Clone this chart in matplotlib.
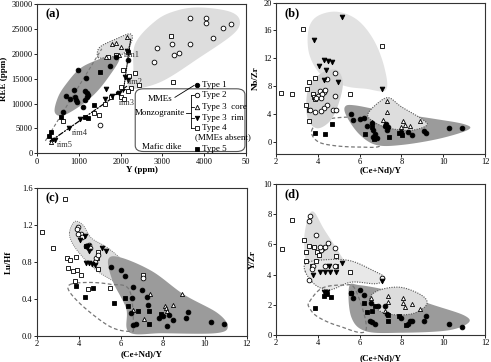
import numpy as np
import matplotlib
matplotlib.use("Agg")
import matplotlib.pyplot as plt
from matplotlib.patches import Polygon, FancyBboxPatch

plt.rcParams['font.family'] = ['Liberation Serif', 'DejaVu Serif']
plt.rcParams['font.size'] = 6

# ---------------- panel (a): Y vs REE ----------------
A_TYPE1 = [(970, 16700), (1180, 15200), (880, 12800), (700, 11600), (790, 11000), (900, 11300),
           (930, 10700), (950, 10300), (1140, 12500), (1190, 12100), (1230, 11700), (1200, 11300),
           (1100, 9400), (620, 8300), (1740, 17500), (1880, 19400), (1150, 10800), (2180, 18800)]
A_TYPE2 = [(3660, 27100), (4040, 27100), (4040, 26100), (4440, 25200), (4650, 25900), (4200, 23200),
           (3650, 21900), (3220, 22000), (2880, 21100), (3280, 19700), (3400, 20200), (2800, 18300),
           (1500, 5600)]
A_CORE = [(2150, 23300), (1800, 21900), (1900, 22200), (2000, 21300), (1650, 19300), (1950, 19800),
          (330, 2300)]
A_RIM = [(2100, 15300), (2180, 14700), (1650, 13000), (1950, 12100), (1620, 10900), (1800, 11600),
         (1040, 6900), (760, 5100), (420, 2600), (2150, 20500)]
A_TYPE4 = [(3200, 23600), (3250, 14300), (2350, 16100), (2050, 16700), (2200, 15600), (2450, 13800),
           (2250, 13200), (2020, 13300), (2170, 12500), (2000, 11300), (2080, 11000), (1770, 11300),
           (1620, 9900), (1490, 7600), (1360, 8000), (620, 6500), (1700, 19300), (1880, 19800)]
A_TYPE5 = [(1500, 16400), (580, 7200), (1140, 7300), (1370, 9800), (340, 4300), (290, 3500),
           (2180, 20400), (1230, 7100)]

A_DARK = [(424, 8300), (504, 11300), (704, 14000), (1024, 17000), (1424, 18700), (1864, 19900),
          (1968, 18800), (1744, 15700), (1424, 12300), (1064, 9700), (624, 7600)]
A_LIGHT = [(2200, 13000), (2300, 16000), (2350, 22000), (2850, 26700), (3350, 28700), (3900, 29300),
           (4600, 28500), (4850, 26700), (4700, 24000), (3900, 19300), (2950, 14300)]
A_CORE_ZONE = [(1460, 19300), (1500, 21300), (1900, 23000), (2220, 24000), (2270, 22700),
               (2060, 20000), (1660, 19300)]

# ---------------- panel (b): (Ce+Nd)/Y vs Nb/Zr ----------------
B_TYPE1 = [(5.57, 4.0), (5.67, 3.1), (6.0, 3.2), (6.2, 3.4), (6.37, 2.3), (6.58, 2.6), (6.62, 1.7),
           (6.74, 1.1), (6.66, 0.7), (6.82, 0.5), (7.2, 2.2), (7.3, 1.7), (7.25, 2.5), (8.0, 1.3),
           (8.3, 1.4), (8.5, 1.0), (9.1, 1.5), (9.2, 1.2), (10.3, 2.0), (10.9, 1.9), (7.35, 2.1)]
B_TYPE2 = [(4.8, 9.8), (4.45, 9.0), (4.1, 7.3), (4.3, 7.1), (4.0, 6.5), (3.9, 6.2), (4.45, 5.2),
           (4.3, 4.8), (4.15, 4.4), (4.75, 4.6), (4.85, 4.6), (3.85, 4.2), (3.65, 4.6), (4.2, 6.9),
           (4.8, 6.6), (4.35, 7.4), (4.15, 6.3)]
B_CORE = [(7.3, 5.9), (7.3, 4.2), (7.1, 3.1), (6.6, 2.8), (8.1, 2.9), (8.15, 2.4), (8.4, 2.3),
          (8.9, 2.9), (8.0, 2.1)]
B_RIM = [(5.14, 17.9), (3.8, 14.6), (4.3, 11.8), (4.47, 11.6), (4.66, 11.4), (4.06, 10.9),
         (4.38, 10.3), (4.3, 8.9), (4.98, 8.6), (7.06, 7.5)]
B_TYPE4 = [(3.85, 9.1), (3.6, 8.6), (3.5, 7.6), (3.75, 6.9), (3.8, 6.4), (3.85, 6.1), (3.45, 5.3),
           (3.6, 4.6), (3.6, 2.9), (5.55, 6.8), (3.3, 16.2), (7.05, 13.8), (2.25, 7.05), (2.75, 6.85)]
B_TYPE5 = [(3.85, 1.2), (4.35, 1.1), (4.7, 2.5), (6.25, 1.1), (6.6, 2.1), (7.4, 0.7), (7.9, 1.2),
           (8.05, 1.0), (6.7, 0.4)]

B_UPPER = [(3.55, 16.0), (3.95, 18.0), (4.9, 18.7), (5.9, 17.5), (6.7, 14.5), (7.2, 10.5),
           (7.25, 7.4), (6.3, 7.6), (5.3, 8.0), (4.2, 9.5), (3.6, 12.5)]
B_TYPE2_ZONE = [(3.45, 5.5), (3.6, 8.0), (4.2, 9.9), (4.9, 10.3), (5.2, 8.5), (5.0, 5.5),
                (4.6, 3.0), (4.0, 1.9), (3.55, 3.0)]
B_DARK = [(5.3, 5.0), (5.8, 5.2), (7.5, 4.2), (9.5, 3.3), (11.0, 2.5), (11.2, 1.7), (9.8, 0.4),
          (8.0, -0.5), (6.8, -0.5), (6.0, 1.0), (5.4, 3.5)]
B_CORE_ZONE = [(6.4, 4.0), (6.9, 5.6), (7.4, 6.3), (8.0, 5.0), (9.0, 3.2), (9.2, 2.3), (8.4, 1.6),
               (7.3, 2.0), (6.6, 3.0)]
B_DASH = [(3.7, 1.5), (4.2, 3.0), (5.3, 3.5), (6.2, 3.3), (6.9, 1.5), (7.0, -0.6), (6.0, -0.8),
          (4.8, -0.6), (4.0, 0.0)]

# ---------------- panel (c): (Ce+Nd)/Y vs Lu/Hf ----------------
C_TYPE1 = [(5.55, 0.75), (6.0, 0.72), (6.2, 0.65), (6.6, 0.53), (7.0, 0.50), (6.55, 0.41),
           (7.25, 0.42), (6.6, 0.12), (6.7, 0.13), (6.5, 0.25), (7.3, 0.34), (8.0, 0.22), (8.2, 0.11),
           (8.3, 0.23), (8.5, 0.17), (9.1, 0.20), (9.2, 0.26), (10.3, 0.15), (10.9, 0.13), (7.8, 0.20)]
C_TYPE2 = [(3.95, 1.18), (3.9, 1.16), (4.1, 1.10), (4.15, 1.07), (4.5, 0.99), (4.35, 0.97),
           (4.45, 0.96), (4.8, 0.85), (4.9, 0.88), (4.75, 0.80), (3.95, 1.11), (7.05, 0.63), (4.55, 0.95)]
C_CORE = [(7.4, 0.45), (6.6, 0.28), (7.1, 0.18), (8.1, 0.33), (8.15, 0.30), (8.2, 0.27), (8.5, 0.34),
          (8.9, 0.45)]
C_RIM = [(4.3, 1.08), (4.05, 1.04), (4.5, 0.92), (5.1, 0.95), (5.3, 0.92), (4.35, 0.79), (4.5, 0.79),
         (4.6, 0.78), (4.75, 0.77), (4.45, 0.98)]
C_TYPE4 = [(3.35, 1.48), (2.25, 1.13), (2.75, 0.95), (3.45, 0.84), (3.55, 0.82), (3.5, 0.74),
           (3.7, 0.7), (3.9, 0.72), (3.85, 0.86), (4.9, 0.91), (4.85, 0.85), (4.9, 0.73), (3.8, 0.6),
           (4.45, 0.51), (5.5, 0.52), (7.05, 0.66), (4.1, 0.66)]
C_TYPE5 = [(3.85, 0.54), (4.65, 0.52), (4.3, 0.42), (5.65, 0.36), (6.2, 0.41), (6.35, 0.33),
           (6.8, 0.27), (7.35, 0.27), (7.35, 0.13), (7.9, 0.24), (4.35, 0.97)]

C_LIGHT = [(3.55, 1.12), (3.8, 1.24), (4.2, 1.2), (4.6, 1.06), (5.4, 0.95), (6.2, 0.78),
           (6.8, 0.52), (6.3, 0.5), (5.6, 0.6), (4.9, 0.7), (4.2, 0.85), (3.7, 1.0)]
C_DARK = [(5.4, 0.83), (6.0, 0.85), (7.5, 0.7), (9.0, 0.45), (10.6, 0.25), (11.1, 0.1), (10.5, 0.03),
          (8.0, 0.03), (6.4, 0.04), (6.25, 0.3), (5.6, 0.6)]
C_DASH = [(3.6, 0.56), (4.5, 0.58), (5.5, 0.56), (6.4, 0.5), (6.6, 0.1), (6.4, 0.05), (5.5, 0.1),
          (4.3, 0.3), (3.55, 0.48)]

# ---------------- panel (d): (Ce+Nd)/Y vs Y/Zr ----------------
D_TYPE1 = [(5.6, 2.8), (5.7, 2.45), (6.0, 2.95), (6.2, 2.65), (6.55, 2.1), (6.6, 0.85), (6.75, 0.75),
           (6.5, 0.95), (7.2, 1.95), (7.3, 1.4), (8.0, 1.15), (8.3, 0.7), (8.4, 0.9), (8.5, 0.9),
           (9.1, 0.95), (9.2, 1.25), (10.3, 0.75), (10.9, 0.55), (6.9, 1.95)]
D_TYPE2 = [(3.65, 7.85), (3.6, 7.55), (3.9, 6.65), (4.25, 5.75), (4.15, 5.65), (4.35, 5.85),
           (4.5, 6.1), (4.8, 5.75), (3.75, 4.55), (3.7, 4.4), (3.6, 3.65), (4.35, 4.6), (4.8, 4.55),
           (7.05, 3.75), (4.1, 5.8)]
D_CORE = [(7.35, 2.6), (7.35, 2.2), (8.1, 2.45), (8.1, 2.15), (8.15, 1.85), (8.5, 2.05), (8.9, 1.7),
          (6.55, 2.45), (7.2, 1.6)]
D_RIM = [(3.75, 4.0), (4.1, 4.2), (4.35, 4.2), (4.6, 4.2), (4.85, 4.2), (5.15, 4.75), (4.3, 2.85),
         (4.45, 2.85), (7.05, 3.55), (4.55, 4.6)]
D_TYPE4 = [(2.27, 5.7), (2.75, 7.6), (3.35, 6.3), (3.45, 5.5), (3.45, 4.9), (3.6, 5.9), (3.95, 5.5),
           (3.9, 4.9), (3.7, 4.55), (4.05, 5.3), (5.55, 4.2), (4.85, 5.2), (4.85, 4.6), (3.8, 5.8)]
D_TYPE5 = [(4.3, 2.55), (4.65, 2.5), (4.45, 2.7), (3.85, 1.8), (5.6, 2.75), (6.2, 2.15), (6.35, 1.55),
           (6.6, 1.6), (6.75, 1.95), (7.35, 1.3), (7.35, 0.95), (7.9, 1.25), (8.2, 0.65)]

D_UPPER = [(3.4, 7.0), (3.6, 8.0), (3.85, 8.1), (4.3, 7.0), (5.0, 5.5), (5.2, 4.8), (4.3, 4.7),
           (3.5, 4.8), (3.35, 6.0)]
D_RIM_ZONE = [(3.4, 4.2), (3.5, 4.8), (4.6, 5.0), (5.6, 4.9), (6.6, 4.3), (7.2, 3.8), (6.8, 3.4),
              (5.6, 3.5), (4.6, 3.0), (3.9, 3.3)]
D_DARK = [(5.5, 3.2), (6.0, 3.3), (7.5, 2.9), (9.5, 2.0), (11.0, 1.3), (11.2, 0.8), (10.2, 0.3),
          (8.0, 0.15), (6.3, 0.25), (5.6, 1.2)]
D_CORE_ZONE = [(6.5, 2.5), (7.0, 3.0), (8.0, 3.15), (9.0, 2.6), (9.2, 2.0), (8.5, 1.4), (7.3, 1.4),
               (6.7, 1.9)]
D_DASH = [(3.6, 2.2), (4.2, 3.1), (5.2, 3.3), (5.8, 3.0), (6.3, 0.3), (5.0, 0.6), (4.0, 1.2),
          (3.6, 1.8)]

DARK = '#9b9b9b'
LIGHT = '#dddddd'
MID = '#d2d2d2'

MS = {'t1': dict(marker='o', mfc='k', mec='k'),
      't2': dict(marker='o', mfc='white', mec='k'),
      'core': dict(marker='^', mfc='white', mec='k'),
      'rim': dict(marker='v', mfc='k', mec='k'),
      't4': dict(marker='s', mfc='white', mec='k'),
      't5': dict(marker='s', mfc='k', mec='k')}


def smooth(pts, n=16):
    # closed Catmull-Rom curve through the outline points
    p = np.asarray(pts, float)
    N = len(p)
    out = []
    for i in range(N):
        p0, p1, p2, p3 = p[i - 1], p[i], p[(i + 1) % N], p[(i + 2) % N]
        for t in np.linspace(0, 1, n, endpoint=False):
            out.append(0.5 * (2 * p1 + (p2 - p0) * t + (2 * p0 - 5 * p1 + 4 * p2 - p3) * t ** 2
                              + (3 * p1 - p0 - 3 * p2 + p3) * t ** 3))
    return np.array(out)


def zone(ax, pts, fc='none', ec='none', ls='-', lw=0.8, z=1):
    ax.add_patch(Polygon(smooth(pts), closed=True, fc=fc, ec=ec, ls=ls, lw=lw, zorder=z))


def scatter(ax, pts, kind, ms=3.4):
    p = np.asarray(pts, float)
    ax.plot(p[:, 0], p[:, 1], ls='none', ms=ms, mew=0.6, zorder=5, **MS[kind])


def style(ax, label, xlab, ylab, xl, yl):
    for s in ax.spines.values():
        s.set_linewidth(0.8)
        s.set_color('#333333')
    ax.tick_params(direction='out', length=2, width=0.6, pad=1.2, labelsize=6)
    ax.set_xlabel(xlab, fontweight='bold', fontsize=6.5)
    ax.set_ylabel(ylab, fontweight='bold', fontsize=6.5)
    ax.xaxis.set_label_coords(0.5, xl)
    ax.yaxis.set_label_coords(yl, 0.5)
    ax.text(0.04, 0.93, label, transform=ax.transAxes, fontweight='bold', fontsize=9,
            va='center', ha='left')


fig = plt.figure(figsize=(4.91, 3.62), dpi=100)
W, H = 491.0, 362.0
axa = fig.add_axes([37 / W, 1 - 153.3 / H, 209 / W, 149.3 / H])
axb = fig.add_axes([276 / W, 1 - 154 / H, 209 / W, 151.3 / H])
axc = fig.add_axes([37 / W, 1 - 336 / H, 209.7 / W, 147.7 / H])
axd = fig.add_axes([276 / W, 1 - 335 / H, 209 / W, 151 / H])

# ---- (a)
ax = axa
zone(ax, A_LIGHT, fc=LIGHT)
zone(ax, A_DARK, fc=DARK)
zone(ax, A_CORE_ZONE, fc=LIGHT, ec='#555555', ls=(0, (1, 1.2)), lw=0.8, z=2)
ax.plot([200, 1550], [2500, 21000], color='#777777', ls=(0, (3, 2)), lw=0.8, zorder=3)
ax.annotate('', xy=(2050, 11500), xytext=(2250, 23500),
            arrowprops=dict(arrowstyle='-|>', ls=(0, (1, 1)), lw=0.8, color='k',
                            mutation_scale=5), zorder=4)
ax.annotate('', xy=(1800, 11300), xytext=(2200, 13800),
            arrowprops=dict(arrowstyle='-|>', ls=(0, (3, 1.5)), lw=0.8, color='k',
                            mutation_scale=5), zorder=4)
ax.annotate('', xy=(230, 1900), xytext=(1850, 11400),
            arrowprops=dict(arrowstyle='-|>', ls=(0, (4, 1.5, 1, 1.5)), lw=0.9, color='k',
                            mutation_scale=6), zorder=4)
for txt, (x, y) in [('rim1', (2080, 19800)), ('rim2', (2150, 14300)), ('rim3', (1950, 10100)),
                    ('rim4', (830, 4100)), ('rim5', (470, 1600))]:
    ax.text(x, y, txt, fontsize=6, color='#333333', ha='left', va='center', zorder=6)
scatter(ax, A_TYPE4, 't4')
scatter(ax, A_TYPE2, 't2')
scatter(ax, A_CORE, 'core', ms=3)
scatter(ax, A_RIM, 'rim')
scatter(ax, A_TYPE1, 't1')
scatter(ax, A_TYPE5, 't5')
ax.set_xlim(0, 5000)
ax.set_ylim(0, 30000)
ax.set_xticks(range(0, 5001, 1000))
ax.set_xticklabels(['0', '1000', '2000', '3000', '4000', '50'])
ax.set_yticks(range(0, 30001, 5000))
style(ax, '(a)', 'Y (ppm)', 'REE (ppm)', -0.085, -0.14)

# legend of rock types
box = FancyBboxPatch((0.47, 0.012), 0.525, 0.42, boxstyle='round,pad=0,rounding_size=0.04',
                     transform=ax.transAxes, fc='white', ec='#555555', lw=0.8, zorder=6)
ax.add_patch(box)
rows = [('t1', 'Type 1', 0.46), ('t2', 'Type 2', 0.393), ('core', 'Type 3  core', 0.311),
        ('rim', 'Type 3  rim', 0.238), ('t4', 'Type 4', 0.171), ('t5', 'Type 5', 0.027)]
mx = 0.765
for kind, name, y in rows:
    ax.plot([mx], [y], transform=ax.transAxes, ls='none', ms=3.2, mew=0.6, zorder=8,
            clip_on=False, **MS[kind])
    ax.text(mx + 0.025, y, name, transform=ax.transAxes, fontsize=6.5, va='center', zorder=8)
ax.text(0.755, 0.111, '(MMEs absent)', transform=ax.transAxes, fontsize=6.5, va='center', zorder=8)
ax.text(0.65, 0.367, 'MMEs', transform=ax.transAxes, fontsize=6.5, va='center', ha='right', zorder=8)
ax.plot([0.66, 0.752], [0.375, 0.455], transform=ax.transAxes, color='k', lw=0.6, zorder=8)
ax.text(0.71, 0.271, 'Monzogranite', transform=ax.transAxes, fontsize=6.5, va='center',
        ha='right', zorder=8)
ax.plot([0.712, 0.738], [0.271, 0.271], transform=ax.transAxes, color='k', lw=0.6, zorder=8)
ax.plot([0.738, 0.738], [0.171, 0.393], transform=ax.transAxes, color='k', lw=0.6, zorder=8)
for y in [0.393, 0.311, 0.238, 0.171]:
    ax.plot([0.738, 0.752], [y, y], transform=ax.transAxes, color='k', lw=0.6, zorder=8)
ax.text(0.5, 0.044, 'Mafic dike', transform=ax.transAxes, fontsize=6.5, va='center', zorder=8)

# ---- (b)
ax = axb
zone(ax, B_DASH, ec='#777777', ls=(0, (3, 2)), lw=0.9, z=1)
zone(ax, B_UPPER, fc='#e2e2e2')
zone(ax, B_TYPE2_ZONE, fc=MID)
zone(ax, B_DARK, fc=DARK, z=2)
zone(ax, B_CORE_ZONE, fc=LIGHT, ec='#555555', ls=(0, (1, 1.2)), lw=0.8, z=3)
scatter(ax, B_TYPE4, 't4')
scatter(ax, B_TYPE2, 't2')
scatter(ax, B_CORE, 'core', ms=3)
scatter(ax, B_RIM, 'rim')
scatter(ax, B_TYPE1, 't1')
scatter(ax, B_TYPE5, 't5')
ax.set_xlim(2, 12)
ax.set_ylim(-1.8, 20)
ax.set_xticks(range(2, 13, 2))
ax.set_yticks(range(0, 21, 4))
style(ax, '(b)', '(Ce+Nd)/Y', 'Nb/Zr', -0.08, -0.077)

# ---- (c)
ax = axc
zone(ax, C_LIGHT, fc=LIGHT, ec='#777777', ls=(0, (1, 1.2)), lw=0.7)
zone(ax, C_DARK, fc=DARK, z=2)
zone(ax, C_DASH, ec='#777777', ls=(0, (3, 2)), lw=0.9, z=3)
scatter(ax, C_TYPE4, 't4')
scatter(ax, C_TYPE2, 't2')
scatter(ax, C_CORE, 'core', ms=3)
scatter(ax, C_RIM, 'rim')
scatter(ax, C_TYPE1, 't1')
scatter(ax, C_TYPE5, 't5')
ax.set_xlim(2, 12)
ax.set_ylim(0, 1.6)
ax.set_xticks(range(2, 13, 2))
ax.set_yticks([0, 0.4, 0.8, 1.2, 1.6])
ax.set_yticklabels(['0.0', '0.4', '0.8', '1.2', '1.6'])
style(ax, '(c)', '(Ce+Nd)/Y', 'Lu/Hf', -0.095, -0.115)

# ---- (d)
ax = axd
zone(ax, D_UPPER, fc=LIGHT)
zone(ax, D_RIM_ZONE, fc='#e8e8e8', ec='#555555', ls=(0, (1, 1.2)), lw=0.8, z=2)
zone(ax, D_DARK, fc=DARK, z=2)
zone(ax, D_CORE_ZONE, fc=LIGHT, ec='#555555', ls=(0, (1, 1.2)), lw=0.8, z=3)
zone(ax, D_DASH, ec='#777777', ls=(0, (3, 2)), lw=0.9, z=3)
scatter(ax, D_TYPE4, 't4')
scatter(ax, D_TYPE2, 't2')
scatter(ax, D_CORE, 'core', ms=3)
scatter(ax, D_RIM, 'rim')
scatter(ax, D_TYPE1, 't1')
scatter(ax, D_TYPE5, 't5')
ax.set_xlim(2, 12)
ax.set_ylim(0, 10)
ax.set_xticks(range(2, 13, 2))
ax.set_yticks(range(0, 11, 2))
style(ax, '(d)', '(Ce+Nd)/Y', 'Y/Zr', -0.125, -0.09)

fig.savefig('out.png', dpi=100)
